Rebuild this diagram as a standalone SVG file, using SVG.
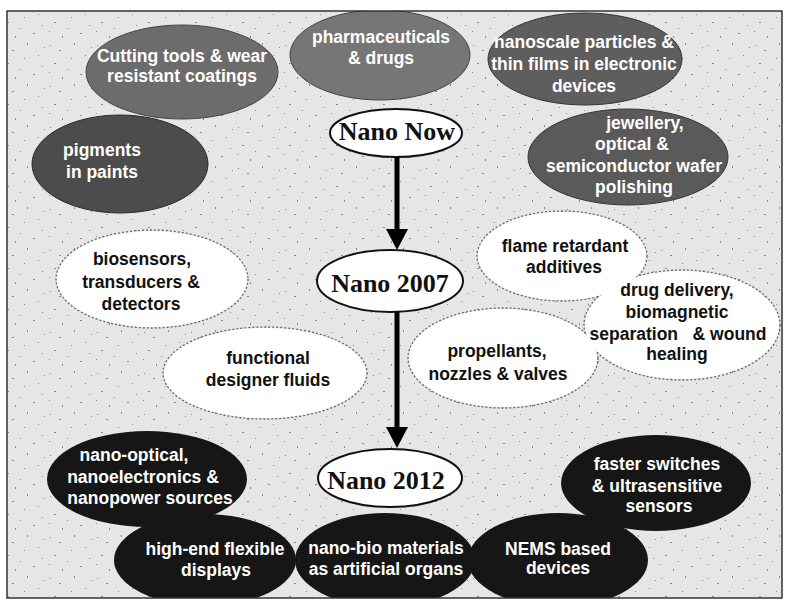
<svg xmlns="http://www.w3.org/2000/svg" width="788" height="603" viewBox="0 0 788 603">
<defs>
<style>
.bg{fill:url(#speck)}
.gray text,.dark text{fill:#fff}
.t{font-family:"Liberation Sans",Arial,sans-serif;font-weight:bold;font-size:17.5px;text-anchor:middle}
.tb{fill:#111}
.nano{font-family:"Liberation Serif","Times New Roman",serif;font-weight:bold;font-size:26px;text-anchor:middle;fill:#111}
.era{fill:#fff;stroke:#111;stroke-width:2}
.lightS{fill:none;stroke:#666;stroke-width:1.3;stroke-dasharray:2 2}
.lightF{fill:#fff}
.darkE{fill:#161616}
.conn line{stroke:#000;stroke-width:5}
.conn polygon{fill:#000}
</style>
<pattern id="speck" width="47" height="41" patternUnits="userSpaceOnUse">
<rect width="47" height="41" fill="#e6e6e6"/>
<g fill="#8a8a8a">
<rect x="3" y="4" width="1" height="1"/><rect x="12" y="9" width="2" height="1"/><rect x="27" y="2" width="1" height="2"/>
<rect x="38" y="14" width="1" height="1"/><rect x="7" y="22" width="2" height="1"/><rect x="20" y="28" width="1" height="1"/>
<rect x="33" y="33" width="2" height="1"/><rect x="42" y="25" width="1" height="1"/><rect x="15" y="36" width="1" height="2"/>
<rect x="24" y="17" width="1" height="1"/><rect x="2" y="31" width="1" height="1"/><rect x="44" y="6" width="1" height="1"/>
</g>
</pattern>
<clipPath id="frame"><rect x="7" y="11" width="775" height="587"/></clipPath>
</defs>
<rect width="788" height="603" fill="#fff"/>
<g clip-path="url(#frame)">
<rect class="bg" x="7" y="11" width="775" height="587"/>

<!-- top gray nodes -->
<g id="n-cutting" class="gray">
<ellipse cx="182" cy="72" rx="96" ry="47" fill="#6c6c6c" stroke="#444" stroke-width="1"/>
<text class="t" x="182" y="62">Cutting tools &amp; wear</text>
<text class="t" x="182" y="82">resistant coatings</text>
</g>
<g id="n-pharma" class="gray">
<ellipse cx="380" cy="55" rx="90" ry="45" fill="#767676" stroke="#444" stroke-width="1"/>
<text class="t" x="381" y="43">pharmaceuticals</text>
<text class="t" x="381" y="64">&amp; drugs</text>
</g>
<g id="n-nanoscale" class="gray">
<ellipse cx="585" cy="59" rx="97" ry="46" fill="#5e5e5e" stroke="#333" stroke-width="1"/>
<text class="t" x="584" y="48">nanoscale particles &amp;</text>
<text class="t" x="584" y="70">thin films in electronic</text>
<text class="t" x="584" y="92">devices</text>
</g>
<g id="n-pigments" class="gray">
<ellipse cx="120" cy="164" rx="88" ry="49" fill="#4c4c4c" stroke="#2a2a2a" stroke-width="1"/>
<text class="t" x="102" y="156">pigments</text>
<text class="t" x="102" y="178">in paints</text>
</g>
<g id="n-jewellery" class="gray">
<ellipse cx="628" cy="157" rx="100" ry="48" fill="#5a5a5a" stroke="#333" stroke-width="1"/>
<text class="t" x="645" y="129">jewellery,</text>
<text class="t" x="632" y="150">optical &amp;</text>
<text class="t" x="634" y="172">semiconductor wafer</text>
<text class="t" x="634" y="193">polishing</text>
</g>

<!-- light cloud nodes: outlines first, then fills -->
<g id="light-outlines">
<ellipse class="lightS" cx="152" cy="279" rx="96" ry="49"/>
<ellipse class="lightS" cx="265" cy="373" rx="102" ry="46"/>
<ellipse class="lightS" cx="562" cy="256" rx="85" ry="45"/>
<ellipse class="lightS" cx="682" cy="325" rx="98" ry="55"/>
<ellipse class="lightS" cx="503" cy="358" rx="95" ry="50"/>
</g>
<g id="n-biosensors">
<ellipse class="lightF" cx="152" cy="279" rx="95" ry="48"/>
<text class="t tb" x="142" y="265">biosensors,</text>
<text class="t tb" x="141" y="288">transducers &amp;</text>
<text class="t tb" x="141" y="310">detectors</text>
</g>
<g id="n-functional">
<ellipse class="lightF" cx="265" cy="373" rx="101" ry="45"/>
<text class="t tb" x="268" y="364">functional</text>
<text class="t tb" x="268" y="386">designer fluids</text>
</g>
<g id="n-flame">
<ellipse class="lightF" cx="562" cy="256" rx="84" ry="44"/>
</g>
<g id="n-drug">
<ellipse class="lightF" cx="682" cy="325" rx="97" ry="54"/>
</g>
<g id="n-propellants">
<ellipse class="lightF" cx="503" cy="358" rx="94" ry="49"/>
<text class="t tb" x="497" y="357">propellants,</text>
<text class="t tb" x="498" y="380">nozzles &amp; valves</text>
</g>
<g id="labels-flame-drug">
<text class="t tb" x="565" y="252">flame retardant</text>
<text class="t tb" x="564" y="273">additives</text>
<text class="t tb" x="677" y="296">drug delivery,</text>
<text class="t tb" x="677" y="318">biomagnetic</text>
<text class="t tb" x="678" y="340" xml:space="preserve">separation   &amp; wound</text>
<text class="t tb" x="677" y="360">healing</text>
</g>

<!-- dark bottom nodes -->
<g id="n-nanooptical" class="dark">
<ellipse class="darkE" cx="147" cy="479" rx="100" ry="48"/>
<text class="t" x="134" y="461">nano-optical,</text>
<text class="t" x="143" y="483">nanoelectronics &amp;</text>
<text class="t" x="150" y="504">nanopower sources</text>
</g>
<g id="n-highend" class="dark">
<ellipse class="darkE" cx="205" cy="560" rx="91" ry="46"/>
<text class="t" x="215" y="555">high-end flexible</text>
<text class="t" x="216" y="576">displays</text>
</g>
<g id="n-nanobio" class="dark">
<ellipse class="darkE" cx="385" cy="560" rx="90" ry="47"/>
<text class="t" x="386" y="554">nano-bio materials</text>
<text class="t" x="386" y="575">as artificial organs</text>
</g>
<g id="n-faster" class="dark">
<ellipse class="darkE" cx="656" cy="483" rx="95" ry="48"/>
<text class="t" x="657" y="470">faster switches</text>
<text class="t" x="657" y="492">&amp; ultrasensitive</text>
<text class="t" x="659" y="512">sensors</text>
</g>
<g id="n-nems" class="dark">
<ellipse class="darkE" cx="558" cy="560" rx="90" ry="47"/>
<text class="t" x="558" y="555">NEMS based</text>
<text class="t" x="558" y="574">devices</text>
</g>

<!-- era nodes -->
<g id="n-now">
<ellipse class="era" cx="396" cy="133" rx="66" ry="24"/>
<text class="nano" x="397" y="140">Nano Now</text>
</g>
<g id="n-2007">
<ellipse class="era" cx="390" cy="281" rx="73" ry="31"/>
<text class="nano" x="390" y="292">Nano 2007</text>
</g>
<g id="n-2012">
<ellipse class="era" cx="390" cy="478" rx="72" ry="29"/>
<text class="nano" x="386" y="489">Nano 2012</text>
</g>

<g id="connectors" class="conn">
<line x1="397" y1="157" x2="397" y2="232"/>
<polygon points="386,229 408,229 397,250"/>
<line x1="397" y1="312" x2="397" y2="430"/>
<polygon points="386,427 408,427 397,448"/>
</g>
</g>
<rect x="7" y="11" width="775" height="587" fill="none" stroke="#333" stroke-width="1.5"/>
</svg>
